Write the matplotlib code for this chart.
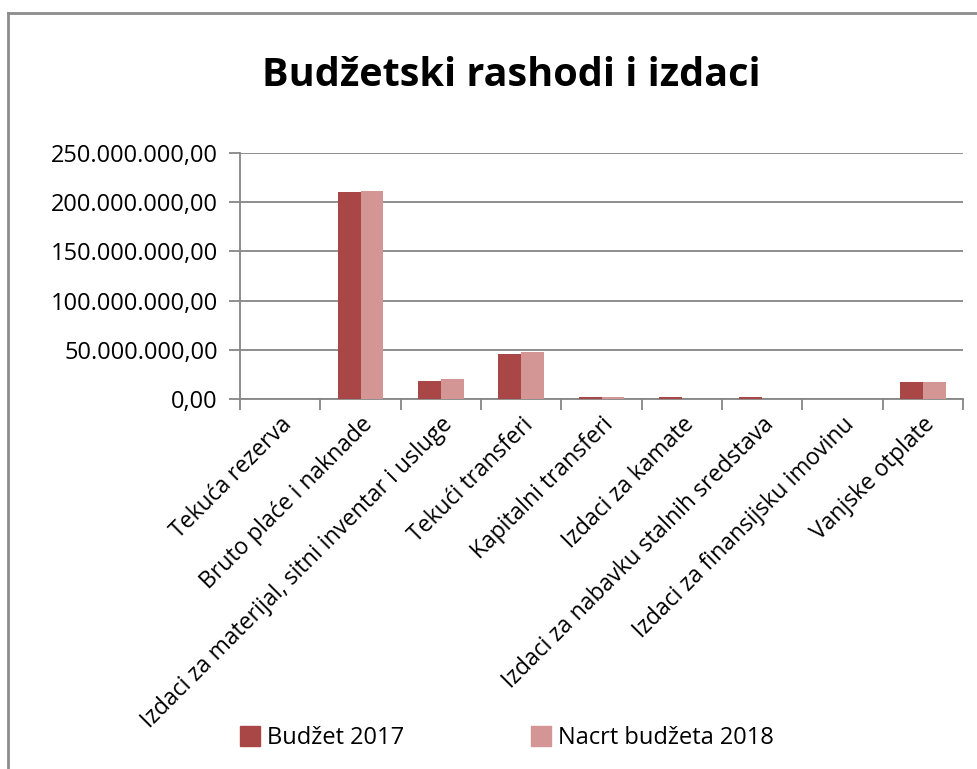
import matplotlib.pyplot as plt
import numpy as np
from matplotlib.ticker import FuncFormatter, MultipleLocator
from matplotlib.lines import Line2D

# data (KM)
categories = ['Tekuća rezerva', 'Bruto plaće i naknade',
              'Izdaci za materijal, sitni inventar i usluge', 'Tekući transferi',
              'Kapitalni transferi', 'Izdaci za kamate',
              'Izdaci za nabavku stalnih sredstava', 'Izdaci za finansijsku imovinu',
              'Vanjske otplate']
budzet_2017 = [0, 210200000, 18300000, 45700000, 2000000, 2000000, 2000000, 0, 17500000]
nacrt_2018 = [0, 211300000, 20300000, 47800000, 2000000, 0, 0, 0, 17500000]
series_names = ['Budžet 2017', 'Nacrt budžeta 2018']

col_2017 = '#A94747'
col_2018 = '#D49595'
grid_col = '#868686'

plt.rcParams['font.family'] = ['Open Sans', 'DejaVu Sans']

fig = plt.figure(figsize=(9.77, 7.69), dpi=100)
ax = fig.add_axes([240 / 977, 1 - 399 / 769, (963 - 240) / 977, (399 - 153) / 769])

x = np.arange(len(categories))
w = 0.285
ax.bar(x - w / 2, budzet_2017, w, color=col_2017, zorder=3)
ax.bar(x + w / 2, nacrt_2018, w, color=col_2018, zorder=3)

ax.set_xlim(-0.5, len(categories) - 0.5)
ax.set_ylim(0, 250000000)
ax.yaxis.set_major_locator(MultipleLocator(50000000))


def fmt(v, pos):
    s = f'{int(round(v)):,}'.replace(',', '.')
    return s + ',00'


ax.yaxis.set_major_formatter(FuncFormatter(fmt))
ax.yaxis.grid(True, color=grid_col, linewidth=1.3, zorder=0)
ax.set_axisbelow(True)

for s in ['top', 'right']:
    ax.spines[s].set_visible(False)
for s in ['left', 'bottom']:
    ax.spines[s].set_color(grid_col)
    ax.spines[s].set_linewidth(1.3)

ax.set_xticks(np.arange(len(categories) + 1) - 0.5, minor=False)
ax.set_xticklabels([])
ax.set_xticks(x, minor=True)
ax.set_xticklabels(categories, minor=True, rotation=45, ha='right',
                   rotation_mode='anchor', fontsize=16.5)
ax.tick_params(axis='x', which='minor', length=0, pad=10)
ax.tick_params(axis='x', which='major', length=8, width=1.3, color=grid_col, direction='out')
ax.tick_params(axis='y', length=8, width=1.3, color=grid_col, labelsize=17, pad=8)

fig.text(0.523, 1 - 75 / 769, 'Budžetski rashodi i izdaci', ha='center', va='center',
         fontsize=28.5, fontweight='bold')

handles = [Line2D([], [], marker='s', linestyle='none', markersize=14, color=col_2017),
           Line2D([], [], marker='s', linestyle='none', markersize=14, color=col_2018)]
fig.legend(handles, series_names, loc='center', bbox_to_anchor=(0.518, 1 - 738 / 769),
           ncol=2, frameon=False, fontsize=17, columnspacing=5.3, handletextpad=0.2,
           handlelength=1.0)

# chart border (left and top edges visible in the screenshot)
fig.add_artist(Line2D([8 / 977, 8 / 977], [0, 1 - 13 / 769], color='#8c8c8c', linewidth=2,
                      transform=fig.transFigure))
fig.add_artist(Line2D([8 / 977, 1], [1 - 13 / 769, 1 - 13 / 769], color='#8c8c8c', linewidth=2,
                      transform=fig.transFigure))

fig.savefig('out.png', dpi=100)
